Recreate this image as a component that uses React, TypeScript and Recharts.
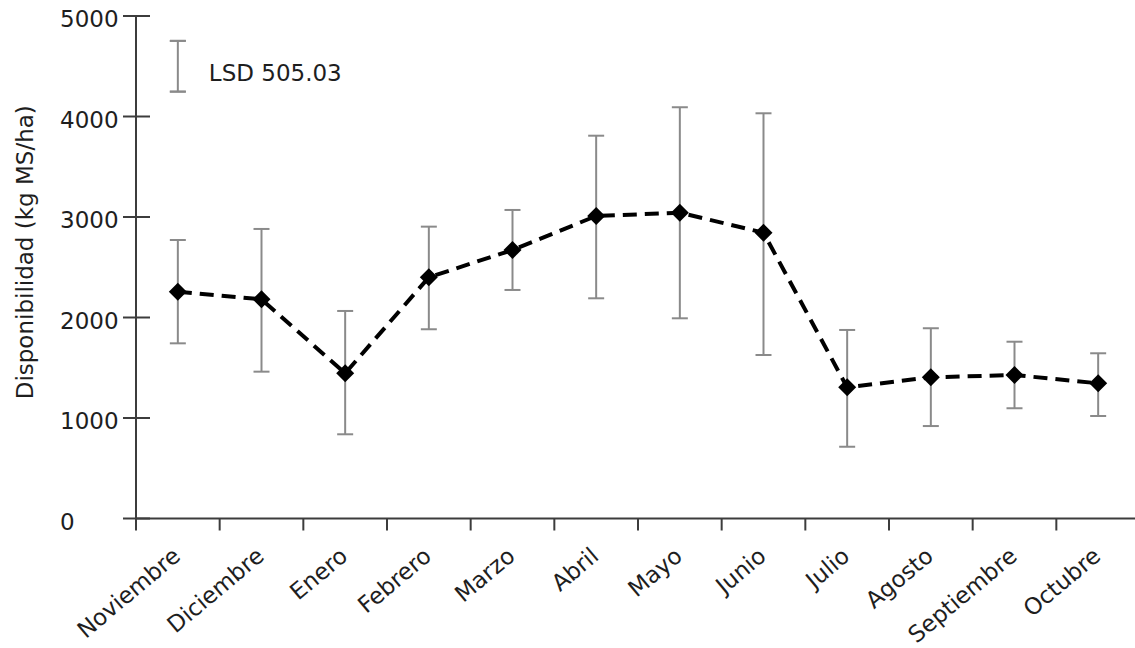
import { LineChart, Line, XAxis, YAxis, ErrorBar, LabelList, Label } from 'recharts';

// medias mensuales y extremos de las barras de error (kg MS/ha)
const months = [
  'Noviembre', 'Diciembre', 'Enero', 'Febrero', 'Marzo', 'Abril',
  'Mayo', 'Junio', 'Julio', 'Agosto', 'Septiembre', 'Octubre'
];
const meanValues = [2257, 2181, 1445, 2400, 2672, 3010, 3043, 2844, 1305, 1405, 1428, 1345];
const upperValues = [2771, 2881, 2065, 2904, 3070, 3809, 4092, 4032, 1876, 1893, 1759, 1644];
const lowerValues = [1743, 1461, 838, 1883, 2274, 2191, 1992, 1627, 714, 920, 1097, 1020];
const yTicks = [0, 1000, 2000, 3000, 4000, 5000];
const lsdCenter = 4500;
const lsdValue = 505.03;

const FONT = '"DejaVu Sans", sans-serif';
const FS = 23;
const TEXT = '#1e1e1e';
const AXIS = '#3c3c3c';
const BAR = '#8a8a8a';

const data = months.map((m, i) => ({
  idx: i,
  month: m,
  mean: meanValues[i],
  err: [meanValues[i] - lowerValues[i], upperValues[i] - meanValues[i]]
}));

// barra LSD: dos extremos en la primera categoría; las tapas salen de un error casi nulo
const lsdData = [
  { idx: 0, lsd: lsdCenter + lsdValue / 2, cap: 0.01 },
  { idx: 0, lsd: lsdCenter - lsdValue / 2, cap: 0.01 }
];

const boundaryTicks = months.map((_, i) => i - 0.5).concat([months.length - 0.5]);
const centerTicks = months.map((_, i) => i);

const NoLabel = () => <g />;

const Diamond = (props: any) => {
  const { cx, cy } = props;
  if (cx == null || cy == null) return null;
  const r = 9;
  return (
    <polygon
      points={`${cx},${cy - r} ${cx + r},${cy} ${cx},${cy + r} ${cx - r},${cy}`}
      fill="#000"
    />
  );
};

const MonthTick = (props: any) => {
  const { x, y, payload } = props;
  const ax = x + 4;
  const ay = y + 28;
  return (
    <text
      x={ax}
      y={ay}
      transform={`rotate(-40 ${ax} ${ay})`}
      textAnchor="end"
      fontFamily={FONT}
      fontSize={FS}
      fill={TEXT}
    >
      {months[payload.value]}
    </text>
  );
};

// etiqueta del eje Y + la mitad interior de la marca (cruza el eje)
const ValueTick = (props: any) => {
  const { x, y, payload } = props;
  return (
    <g>
      <line x1={x + 13} x2={x + 27} y1={y} y2={y} stroke={AXIS} strokeWidth={2} />
      <text x={x - 63} y={y + 11} textAnchor="start" fontFamily={FONT} fontSize={FS} fill={TEXT}>
        {payload.value}
      </text>
    </g>
  );
};

const YTitle = (props: any) => {
  const { viewBox } = props;
  const cx = viewBox.x + 25;
  const cy = viewBox.y + viewBox.height / 2 - 15;
  return (
    <text
      x={cx}
      y={cy}
      transform={`rotate(-90 ${cx} ${cy})`}
      textAnchor="middle"
      dominantBaseline="central"
      fontFamily={FONT}
      fontSize={FS}
      fill={TEXT}
    >
      Disponibilidad (kg MS/ha)
    </text>
  );
};

const LsdLabel = (props: any) => {
  const { x, y, index } = props;
  if (index !== 0) return null;
  return (
    <text x={x + 31} y={y + 40} fontFamily={FONT} fontSize={FS} fill={TEXT}>
      LSD {lsdValue}
    </text>
  );
};

export default function App() {
  return (
    <div style={{ width: 1135, height: 648, overflow: 'hidden', background: '#fff' }}>
      <style>{'body { margin: 0; }'}</style>
      <LineChart
        width={1145}
        height={648}
        data={data}
        margin={{ top: 16, right: 5, left: 0, bottom: 0 }}
      >
        <XAxis
          xAxisId="b"
          dataKey="idx"
          type="number"
          domain={[-0.5, 11.5]}
          ticks={boundaryTicks}
          interval={0}
          height={12}
          tick={<NoLabel />}
          tickSize={12}
          stroke={AXIS}
          strokeWidth={2}
        />
        <XAxis
          xAxisId="l"
          dataKey="idx"
          type="number"
          domain={[-0.5, 11.5]}
          ticks={centerTicks}
          height={117.5}
          axisLine={false}
          tickLine={false}
          tickSize={0}
          tickMargin={0}
          tick={<MonthTick />}
          interval={0}
        />
        <YAxis
          yAxisId="main"
          type="number"
          domain={[0, 5000]}
          ticks={yTicks}
          interval={0}
          width={136}
          tickSize={13}
          tickMargin={0}
          tick={<ValueTick />}
          stroke={AXIS}
          strokeWidth={2}
        >
          <Label content={<YTitle />} />
        </YAxis>
        <Line
          xAxisId="b"
          yAxisId="main"
          data={lsdData}
          dataKey="lsd"
          stroke={BAR}
          strokeWidth={2}
          dot={false}
          activeDot={false}
          isAnimationActive={false}
        >
          <ErrorBar dataKey="cap" direction="y" width={8} stroke={BAR} strokeWidth={2} />
          <LabelList dataKey="lsd" content={<LsdLabel />} />
        </Line>
        <Line
          xAxisId="b"
          yAxisId="main"
          type="linear"
          dataKey="mean"
          stroke="#000"
          strokeWidth={4}
          strokeDasharray="14 8"
          dot={<Diamond />}
          activeDot={false}
          isAnimationActive={false}
        >
          <ErrorBar dataKey="err" direction="y" width={8} stroke={BAR} strokeWidth={2} />
        </Line>
      </LineChart>
    </div>
  );
}
